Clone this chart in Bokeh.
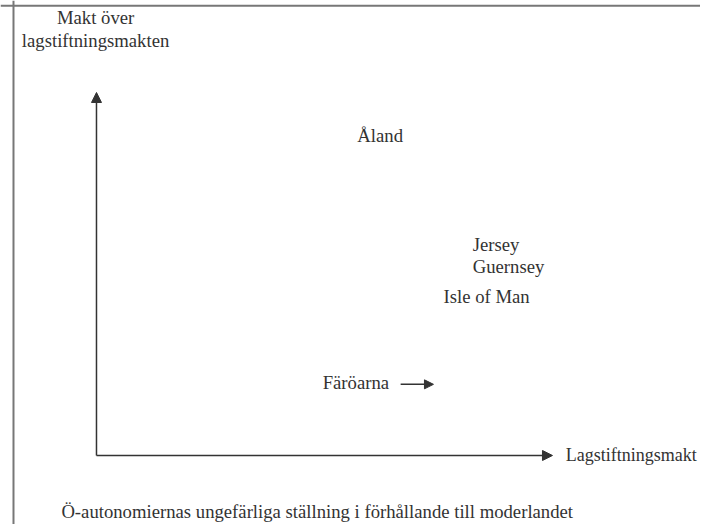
from bokeh.plotting import figure
from bokeh.models import Range1d, Arrow, NormalHead, Span, ColumnDataSource, Label
from bokeh.core.properties import value
from bokeh.embed import file_html
from bokeh.resources import INLINE

# --- data (conceptual position: legislative power x, power over legislature y) ---
islands = ["Åland", "Jersey", "Guernsey", "Isle of Man", "Färöarna"]
island_x = [57.2, 82.5, 82.5, 76.1, 49.6]
island_y = [88.2, 58.1, 52.1, 43.8, 20.1]

# Färöarna's direction of movement
move_x0, move_x1, move_y = 66.7, 73.9, 19.6

x_title = "Lagstiftningsmakt"
y_title_lines = ["Makt över", "lagstiftningsmakten"]
caption = "Ö-autonomiernas ungefärliga ställning i förhållande till moderlandet"

axis_max = 100

FONT = "Liberation Serif"
FS = "18.7px"
TXT = "#333333"
LINE = "#333333"

p = figure(width=700, height=524, output_backend="svg", toolbar_location=None,
           x_range=Range1d(-21.05, 132.46), y_range=Range1d(-19.01, 125.34),
           min_border=0)
p.xaxis.visible = False
p.yaxis.visible = False
p.xgrid.visible = False
p.ygrid.visible = False
p.outline_line_color = None
p.background_fill_color = "white"
p.border_fill_color = "white"

# page frame (left and top edges)
frame_left = -18.2
frame_top = 123.9
p.add_layout(Span(location=frame_left, dimension="height", line_color="#777777", line_width=2))
p.add_layout(Span(location=frame_top, dimension="width", line_color="#777777", line_width=2))

# axes arrows
p.add_layout(Arrow(x_start=0, y_start=0, x_end=axis_max, y_end=0,
                   line_color=LINE, line_width=1.5,
                   end=NormalHead(size=10, fill_color=LINE, line_color=LINE)))
p.add_layout(Arrow(x_start=0, y_start=0, x_end=0, y_end=axis_max,
                   line_color=LINE, line_width=1.5,
                   end=NormalHead(size=10, fill_color=LINE, line_color=LINE)))

# Färöarna arrow
p.add_layout(Arrow(x_start=move_x0, y_start=move_y, x_end=move_x1, y_end=move_y,
                   line_color=LINE, line_width=1.5,
                   end=NormalHead(size=9, fill_color=LINE, line_color=LINE)))

src = ColumnDataSource(dict(x=island_x, y=island_y, t=islands))
p.text(x="x", y="y", text="t", source=src, text_font=value(FONT),
       text_font_size=FS, text_color=TXT, text_align="left", text_baseline="middle")

# axis titles
p.add_layout(Label(x=102.9, y=0, text=x_title, text_font=FONT, text_font_size="18px",
                   text_color=TXT, text_align="left", text_baseline="middle"))
p.add_layout(Label(x=-0.2, y=120.7, text=y_title_lines[0], text_font=FONT, text_font_size=FS,
                   text_color=TXT, text_align="center", text_baseline="middle"))
p.add_layout(Label(x=-0.2, y=114.3, text=y_title_lines[1], text_font=FONT, text_font_size=FS,
                   text_color=TXT, text_align="center", text_baseline="middle"))

# caption
p.add_layout(Label(x=-7.7, y=-15.4, text=caption, text_font=FONT, text_font_size=FS,
                   text_color=TXT, text_align="left", text_baseline="middle"))

open("out.html", "w").write(file_html(p, INLINE))
